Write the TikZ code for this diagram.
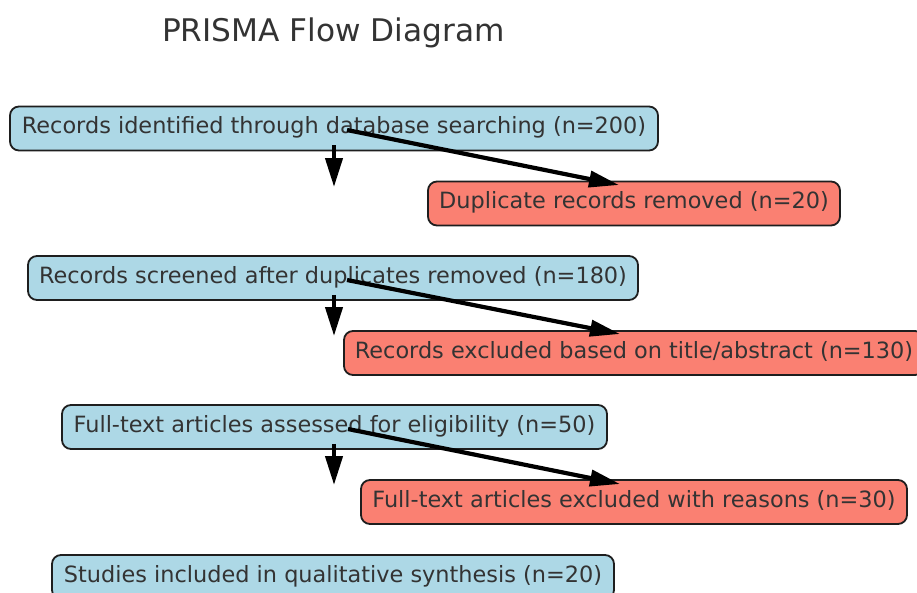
\documentclass[tikz,border=0pt]{standalone}
\usepackage{fontspec}
\setmainfont{DejaVu Sans}
\usetikzlibrary{arrows.meta}
\definecolor{boxblue}{RGB}{173,216,230}
\definecolor{boxsalmon}{RGB}{250,128,114}
\definecolor{txt}{RGB}{51,51,51}
\definecolor{edge}{RGB}{30,30,30}
\tikzset{
  box/.style={draw=edge, line width=1.8pt, rounded corners=9pt, inner sep=0pt,
    minimum height=44pt, text=txt, font=\fontsize{22.4}{26}\selectfont,
    text height=1.2em, text depth=0.17em},
  bluebox/.style={box, fill=boxblue},
  redbox/.style={box, fill=boxsalmon},
  downarrow/.style={line width=4.2pt, shorten <=-6pt, -{Triangle[length=29pt,width=17pt]}},
  sidearrow/.style={line width=4.2pt, -{Triangle[length=30pt,width=16pt]}},
}
\begin{document}
\begin{tikzpicture}[x=1pt,y=-1pt]
\useasboundingbox (0,0) rectangle (917,592);
\clip (0,0) rectangle (917,592);
\fill[white] (0,0) rectangle (917,592);
\node[anchor=base, text=txt, font=\fontsize{31.2}{36}\selectfont] (title) at (333.5,41.5) {PRISMA Flow Diagram};

\node[bluebox, minimum width=648pt] (b1) at (334,128.5) {Records identified through database searching (n=200)};
\node[redbox, minimum width=412pt] (b2) at (634,203.5) {Duplicate records removed (n=20)};
\node[bluebox, minimum width=610pt] (b3) at (333,278) {Records screened after duplicates removed (n=180)};
\node[redbox, minimum width=580pt] (b4) at (634,353) {Records excluded based on title/abstract (n=130)};
\node[bluebox, minimum width=545pt] (b5) at (334.5,427) {Full-text articles assessed for eligibility (n=50)};
\node[redbox, minimum width=546pt] (b6) at (634,502) {Full-text articles excluded with reasons (n=30)};
\node[bluebox, minimum width=562pt] (b7) at (333,577) {Studies included in qualitative synthesis (n=20)};

\coordinate (d1) at (334,187);
\coordinate (d3) at (334,336);
\coordinate (d5) at (334,485);
\coordinate (s1) at (347,130);
\coordinate (s3) at (347,280);
\coordinate (s5) at (348,429);
\coordinate (t2) at (619,185);
\coordinate (t4) at (620,334);
\coordinate (t6) at (620,484);

\draw[downarrow] (b1.south -| d1) -- (d1);
\draw[downarrow] (b3.south -| d3) -- (d3);
\draw[downarrow] (b5.south -| d5) -- (d5);
\draw[sidearrow] (s1) -- (t2);
\draw[sidearrow] (s3) -- (t4);
\draw[sidearrow] (s5) -- (t6);
\end{tikzpicture}
\end{document}
